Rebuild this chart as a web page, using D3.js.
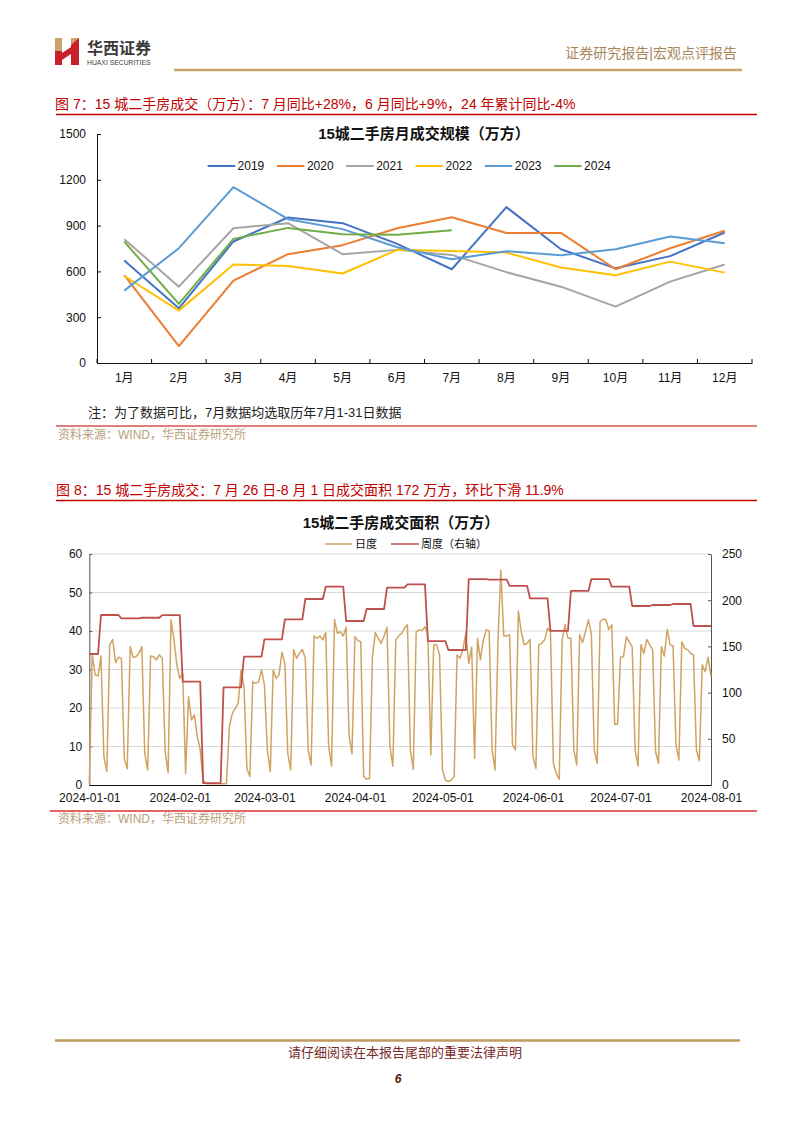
<!DOCTYPE html>
<html><head><meta charset="utf-8">
<script src="https://cdn.jsdelivr.net/npm/d3@7"></script>
<style>
body{margin:0;background:#fff;}
svg{display:block;}
</style></head><body>
<svg id="page" width="802" height="1133"></svg>
<script>
// ---------- Figure 7 data ----------
const months = ['1月','2月','3月','4月','5月','6月','7月','8月','9月','10月','11月','12月'];
const yearNames = ['2019','2020','2021','2022','2023','2024'];
const yearColors = ['#4472C4','#ED7D31','#A5A5A5','#FFC000','#5B9BD5','#70AD47'];
const v2019 = [671, 358, 796, 953, 916, 780, 614, 1021, 745, 620, 700, 855];
const v2020 = [575, 111, 540, 713, 772, 883, 955, 852, 852, 614, 752, 866];
const v2021 = [811, 500, 883, 916, 713, 741, 708, 595, 500, 369, 533, 645];
const v2022 = [570, 343, 645, 636, 586, 741, 734, 723, 625, 575, 664, 592];
const v2023 = [474, 752, 1152, 942, 877, 758, 680, 732, 706, 745, 828, 785];
const v2024 = [795, 387, 813, 885, 844, 840, 870];
const yTicks1 = [0, 300, 600, 900, 1200, 1500];

// ---------- Figure 8 data ----------
const dailyStart = '2024-01-01';
const dailyValues = [
 0.3,33.9,28.6,28.3,33.5,7.4,3.5,36.4,37.8,31.8,
 33.2,32.9,6.9,4.2,35.9,33.2,33.3,34.2,35.9,8.2,
 3.9,33.5,33.3,32.5,33.8,32.9,8.7,3.2,42.9,37.7,
 31.2,27.7,29.0,3.0,22.9,16.9,18.2,12.6,9.1,1.3,
 0.3,0.3,0.3,0.3,0.3,0.3,0.3,0.3,15.2,18.6,
 19.9,21.2,29.9,25.5,4.3,2.2,26.8,26.4,26.8,29.9,
 26.0,9.1,3.5,29.9,27.7,28.6,34.5,31.6,8.2,3.9,
 35.1,32.9,34.2,35.2,32.9,9.1,5.2,38.7,38.1,38.7,
 37.7,39.6,10.0,4.9,43.0,39.4,39.8,38.7,41.0,13.0,
 8.1,38.5,37.5,37.2,2.2,1.5,1.7,33.3,39.6,38.1,
 36.8,38.7,41.0,10.0,4.9,37.7,38.7,39.4,40.7,41.6,
 9.1,4.1,39.8,40.3,40.1,41.1,39.0,7.8,36.4,36.4,
 33.8,3.9,1.3,0.9,1.3,2.2,33.8,32.9,35.1,39.4,
 31.6,35.8,6.9,38.1,32.5,37.7,40.3,40.0,9.1,3.9,
 37.0,55.8,38.7,38.7,39.0,10.4,9.1,45.2,39.8,36.4,
 36.8,37.8,7.4,4.3,36.4,36.8,37.7,40.7,39.8,5.6,
 3.0,1.5,37.7,41.6,38.1,38.1,9.1,5.2,39.0,37.0,
 39.8,42.9,39.4,9.1,5.6,42.4,43.1,42.9,40.4,41.6,
 15.8,15.8,33.2,33.3,38.5,37.2,35.9,9.1,4.9,36.4,
 34.2,37.8,36.4,35.1,8.7,5.6,35.9,33.5,40.4,36.4,
 36.1,10.4,6.5,37.2,35.5,35.1,34.2,33.8,9.1,6.3,
 31.2,29.4,33.2,28.3
];
const weekStarts = ['2023-12-29','2024-01-05','2024-01-12','2024-01-19','2024-01-26','2024-02-02','2024-02-09','2024-02-16','2024-02-23','2024-03-01','2024-03-08','2024-03-15','2024-03-22','2024-03-29','2024-04-05','2024-04-12','2024-04-19','2024-04-26','2024-05-03','2024-05-10','2024-05-17','2024-05-24','2024-05-31','2024-06-07','2024-06-14','2024-06-21','2024-06-28','2024-07-05','2024-07-12','2024-07-19','2024-07-26'];
const weeklyValues = [141.8,184.0,180.4,181.0,183.8,111.8,2.0,105.7,138.9,157.6,179.3,201.3,214.6,177.5,190.5,213.6,217.2,155.8,146.1,222.9,222.2,215.4,202.0,166.7,210.0,222.9,214.6,193.7,194.8,195.9,172.1];
const xTickDates2 = ['2024-01-01','2024-02-01','2024-03-01','2024-04-01','2024-05-01','2024-06-01','2024-07-01','2024-08-01'];
const yTicksLeft = [0,10,20,30,40,50,60];
const yTicksRight = [0,50,100,150,200,250];

// ---------- page ----------
const LAT = "'Liberation Sans', Arial, 'Noto Sans CJK SC', sans-serif";
const CJK = "'Liberation Sans', 'Noto Sans CJK SC', sans-serif";
const svg = d3.select('#page');
svg.append('rect').attr('width',802).attr('height',1133).attr('fill','#fff');

// header logo
const logo = svg.append('g');
logo.append('rect').attr('x',55).attr('y',38).attr('width',7).attr('height',13).attr('fill','#C9A46A');
logo.append('rect').attr('x',55).attr('y',51).attr('width',7).attr('height',14).attr('fill','#C8202C');
logo.append('polygon').attr('points','62,53 71,47 71,54 62,60').attr('fill','#C8202C');
logo.append('rect').attr('x',71).attr('y',38).attr('width',8).attr('height',27).attr('fill','#C8202C');
logo.append('polygon').attr('points','71,38 79,38 71,45').attr('fill','#C9A46A');
svg.append('text').attr('x',87).attr('y',54).attr('font-family',"'Noto Sans CJK SC', sans-serif")
  .attr('font-weight','bold').attr('font-size',16).attr('fill','#3a3a3a').text('华西证券');
svg.append('text').attr('x',87).attr('y',65).attr('font-family',LAT)
  .attr('font-size',6.8).attr('fill','#3a3a3a').text('HUAXI SECURITIES');
svg.append('text').attr('x',737).attr('y',58).attr('text-anchor','end').attr('font-family',CJK)
  .attr('font-size',14).attr('fill','#A8865A').text('证券研究报告|宏观点评报告');
svg.append('line').attr('x1',174).attr('x2',742).attr('y1',70).attr('y2',70)
  .attr('stroke','#C9A46A').attr('stroke-width',2.6);

// ---------- Figure 7 ----------
svg.append('text').attr('x',55).attr('y',109).attr('font-family',CJK).attr('font-size',14)
  .attr('fill','#C00000').text('图 7：15 城二手房成交（万方）：7 月同比+28%，6 月同比+9%，24 年累计同比-4%');
svg.append('line').attr('x1',56).attr('x2',757).attr('y1',114.5).attr('y2',114.5)
  .attr('stroke','#C00000').attr('stroke-width',1.3);

const c1 = svg.append('g');
const x1 = d3.scaleBand().domain(months).range([97, 752]);
const y1 = d3.scaleLinear().domain([0, 1500]).range([363, 134]);

c1.append('text').attr('x',424).attr('y',139).attr('text-anchor','middle').attr('font-family',CJK)
  .attr('font-weight','bold').attr('font-size',15).attr('fill','#111').text('15城二手房月成交规模（万方）');

// y axis
const yAx1 = c1.append('g').attr('transform','translate(97,0)')
  .call(d3.axisLeft(y1).tickValues(yTicks1).tickFormat(d3.format('d'))
    .tickSizeInner(-4).tickSizeOuter(0).tickPadding(11));
yAx1.selectAll('text').attr('font-family',LAT).attr('font-size',12).attr('fill','#111');
yAx1.selectAll('line,path').attr('stroke','#111');
// x axis
const xAx1 = c1.append('g').attr('transform','translate(0,363)')
  .call(d3.axisBottom(x1).tickSize(0).tickPadding(10));
xAx1.selectAll('text').attr('font-family',CJK).attr('font-size',12).attr('fill','#111');
xAx1.select('path').attr('stroke','#111');
c1.append('g').selectAll('line').data(months.concat(['end'])).join('line')
  .attr('x1',d => d === 'end' ? x1.range()[1] : x1(d))
  .attr('x2',d => d === 'end' ? x1.range()[1] : x1(d))
  .attr('y1',363).attr('y2',359).attr('stroke','#111');

const series1 = [v2019, v2020, v2021, v2022, v2023, v2024];
const line1 = d3.line().x((d,i) => x1(months[i]) + x1.bandwidth()/2).y(d => y1(d));
series1.forEach((s, k) => {
  c1.append('path').datum(s).attr('d', line1).attr('fill','none')
    .attr('stroke', yearColors[k]).attr('stroke-width', 2).attr('stroke-linejoin','round');
});
// legend
const lg1 = c1.append('g');
yearNames.forEach((n, k) => {
  const lx = 207.6 + k * 69.3;
  lg1.append('line').attr('x1',lx).attr('x2',lx+27.5).attr('y1',166).attr('y2',166)
    .attr('stroke',yearColors[k]).attr('stroke-width',2);
  lg1.append('text').attr('x',lx+30).attr('y',170.3).attr('font-family',LAT).attr('font-size',12)
    .attr('fill','#111').text(n);
});

svg.append('text').attr('x',88).attr('y',416.5).attr('font-family',CJK).attr('font-size',13)
  .attr('fill','#222').text('注：为了数据可比，7月数据均选取历年7月1-31日数据');
svg.append('line').attr('x1',56).attr('x2',757).attr('y1',426).attr('y2',426)
  .attr('stroke','#D9534F').attr('stroke-width',1.3);
svg.append('text').attr('x',58).attr('y',438.5).attr('font-family',CJK).attr('font-size',12)
  .attr('fill','#B8A07A').text('资料来源：WIND，华西证券研究所');

// ---------- Figure 8 ----------
svg.append('text').attr('x',56).attr('y',495).attr('font-family',CJK).attr('font-size',14)
  .attr('fill','#C00000').text('图 8：15 城二手房成交：7 月 26 日-8 月 1 日成交面积 172 万方，环比下滑 11.9%');
svg.append('line').attr('x1',56).attr('x2',757).attr('y1',500.5).attr('y2',500.5)
  .attr('stroke','#C00000').attr('stroke-width',1.3);

const parse = d3.utcParse('%Y-%m-%d');
const c2 = svg.append('g');
const x2 = d3.scaleUtc().domain([parse('2024-01-01'), parse('2024-08-01')]).range([89.3, 711]);
const yL = d3.scaleLinear().domain([0, 60]).range([785, 554]);
const yR = d3.scaleLinear().domain([0, 250]).range([785, 554]);

c2.append('text').attr('x',401).attr('y',528).attr('text-anchor','middle').attr('font-family',CJK)
  .attr('font-weight','bold').attr('font-size',15).attr('fill','#111').text('15城二手房成交面积（万方）');

// grid
c2.append('g').selectAll('line').data(yTicksLeft.filter(v => v > 0)).join('line')
  .attr('x1',89.3).attr('x2',711).attr('y1',d => yL(d)).attr('y2',d => yL(d))
  .attr('stroke','#D9D9D9').attr('stroke-width',1);

const yLAx = c2.append('g').attr('transform','translate(89.3,0)')
  .call(d3.axisLeft(yL).tickValues(yTicksLeft).tickSizeInner(-3).tickSizeOuter(0).tickPadding(7));
yLAx.selectAll('text').attr('font-family',LAT).attr('font-size',12).attr('fill','#111');
yLAx.selectAll('line,path').attr('stroke','#555');
const yRAx = c2.append('g').attr('transform','translate(711,0)')
  .call(d3.axisRight(yR).tickValues(yTicksRight).tickSizeInner(-3).tickSizeOuter(0).tickPadding(11));
yRAx.selectAll('text').attr('font-family',LAT).attr('font-size',12).attr('fill','#111');
yRAx.selectAll('line,path').attr('stroke','#555');
const xAx2 = c2.append('g').attr('transform','translate(0,785)')
  .call(d3.axisBottom(x2).tickValues(xTickDates2.map(parse)).tickSize(0).tickPadding(8)
    .tickFormat(d3.utcFormat('%Y-%m-%d')));
xAx2.selectAll('text').attr('font-family',LAT).attr('font-size',12).attr('fill','#111');
xAx2.select('path').attr('stroke','#111').attr('stroke-width',1.2);

const start = parse(dailyStart);
const daily = dailyValues.map((v,i) => ({date: d3.utcDay.offset(start, i), v}));
const wStarts = weekStarts.map(parse);
const weekly = daily.map(d => ({date: d.date, v: weeklyValues[d3.bisectRight(wStarts, d.date) - 1]}));

c2.append('path').datum(daily).attr('fill','none').attr('stroke','#CFA463').attr('stroke-width',1.5)
  .attr('stroke-linejoin','round')
  .attr('d', d3.line().x(d => x2(d.date)).y(d => yL(d.v)));
c2.append('path').datum(weekly).attr('fill','none').attr('stroke','#C0504D').attr('stroke-width',1.8)
  .attr('stroke-linejoin','round')
  .attr('d', d3.line().x(d => x2(d.date)).y(d => yR(d.v)));

// legend
const lg2 = c2.append('g');
lg2.append('line').attr('x1',325).attr('x2',352).attr('y1',544).attr('y2',544).attr('stroke','#CFA463').attr('stroke-width',1.5);
lg2.append('text').attr('x',355).attr('y',548).attr('font-family',CJK).attr('font-size',11).attr('fill','#111').text('日度');
lg2.append('line').attr('x1',391).attr('x2',419).attr('y1',544).attr('y2',544).attr('stroke','#C0504D').attr('stroke-width',1.5);
lg2.append('text').attr('x',421).attr('y',548).attr('font-family',CJK).attr('font-size',11).attr('fill','#111').text('周度（右轴）');

svg.append('line').attr('x1',50).attr('x2',757).attr('y1',811).attr('y2',811)
  .attr('stroke','#E03030').attr('stroke-width',1.3);
svg.append('text').attr('x',58).attr('y',823).attr('font-family',CJK).attr('font-size',12)
  .attr('fill','#B8A07A').text('资料来源：WIND，华西证券研究所');

// ---------- footer ----------
svg.append('line').attr('x1',55).attr('x2',740).attr('y1',1040.5).attr('y2',1040.5)
  .attr('stroke','#C09A5E').attr('stroke-width',2.6);
svg.append('text').attr('x',405).attr('y',1057).attr('text-anchor','middle').attr('font-family',CJK)
  .attr('font-size',13).attr('fill','#7A2A2A').text('请仔细阅读在本报告尾部的重要法律声明');
svg.append('text').attr('x',398).attr('y',1083).attr('text-anchor','middle').attr('font-family',LAT)
  .attr('font-size',12).attr('font-weight','bold').attr('font-style','italic').attr('fill','#5A1010').text('6');
</script>
</body></html>
